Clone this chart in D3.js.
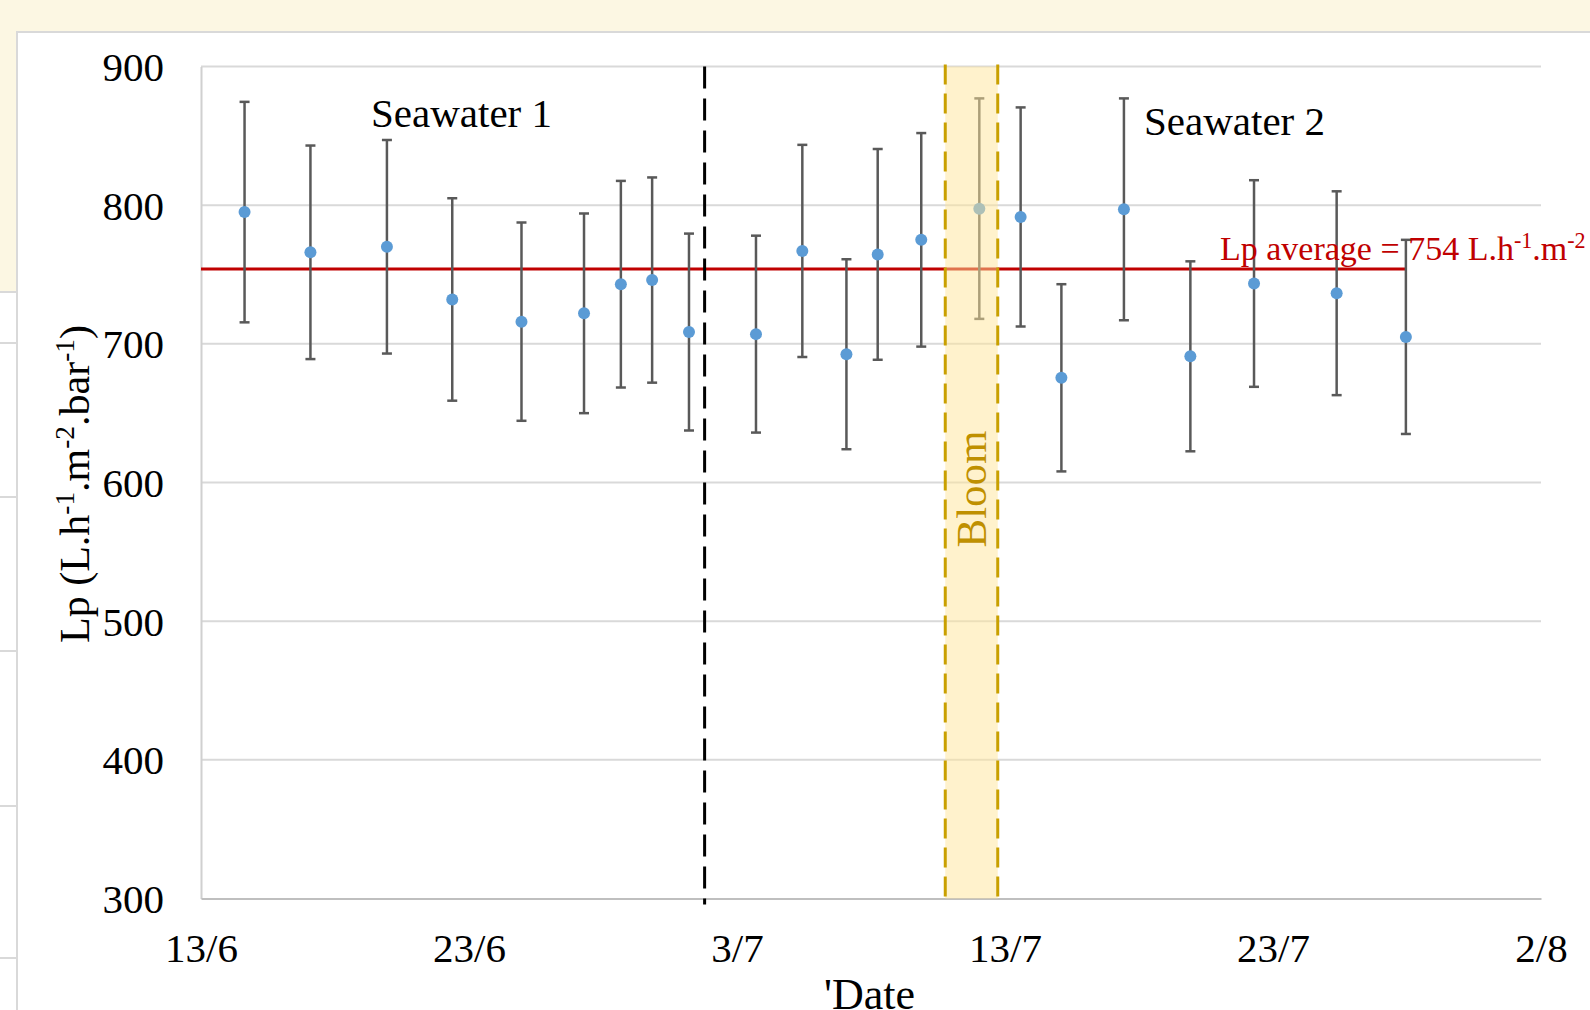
<!DOCTYPE html>
<html>
<head>
<meta charset="utf-8">
<script src="https://cdn.jsdelivr.net/npm/d3@7"></script>
<style>
  html, body { margin: 0; padding: 0; background: #fcf7e3; overflow: hidden; }
  svg { display: block; }
  text { font-family: "Liberation Serif", "Times New Roman", serif; }
</style>
</head>
<body>
<svg id="chart" width="1590" height="1010"></svg>
<script>
// ---------------- data ----------------
const dates = [
  "2021-06-14 15:00", "2021-06-17 02:00", "2021-06-19 22:30", "2021-06-22 09:00",
  "2021-06-24 23:00", "2021-06-27 07:00", "2021-06-28 16:00", "2021-06-29 20:00",
  "2021-07-01 05:00", "2021-07-03 17:00", "2021-07-05 10:30", "2021-07-07 02:00",
  "2021-07-08 06:00", "2021-07-09 21:00", "2021-07-12 01:00", "2021-07-13 14:00",
  "2021-07-15 02:30", "2021-07-17 10:30", "2021-07-19 22:00", "2021-07-22 07:00",
  "2021-07-25 09:00", "2021-07-27 23:00"
];
const lpValues = [795, 766, 770, 732, 716, 722, 743, 746, 708.5, 707, 767, 692.5,
                  764.5, 775, 797.5, 791.5, 675.5, 797, 691, 743.5, 736.5, 705];
const lpErrors = [79.5, 77, 77, 73, 71.5, 72, 74.5, 74, 71, 71, 76.5, 68.5,
                  76, 77, 79.5, 79, 67.5, 80, 68.5, 74.5, 73.5, 70];
const lpAverage = 754;
const seawaterChange = "2021-07-01 19:00";
const bloomPeriod = ["2021-07-10 18:30", "2021-07-12 17:30"];
const xDomain = ["2021-06-13 00:00", "2021-08-02 00:00"];
const xTickDates = ["2021-06-13 00:00", "2021-06-23 00:00", "2021-07-03 00:00",
                    "2021-07-13 00:00", "2021-07-23 00:00", "2021-08-02 00:00"];
const xTickLabels = ["13/6", "23/6", "3/7", "13/7", "23/7", "2/8"];
const yTicks = [300, 400, 500, 600, 700, 800, 900];
const yDomain = [300, 900];

// ---------------- setup ----------------
const parse = d3.timeParse("%Y-%m-%d %H:%M");
const points = dates.map((d, i) => ({ date: parse(d), v: lpValues[i], e: lpErrors[i] }));

const svg = d3.select("#chart");
const L = 201, R = 1541, T = 66.5, B = 898.5;

const x = d3.scaleTime().domain(xDomain.map(parse)).range([L, R]);
const y = d3.scaleLinear().domain(yDomain).range([B, T]);

// ---------------- background ----------------
svg.append("rect").attr("x", 0).attr("y", 0).attr("width", 1590).attr("height", 1010).attr("fill", "#fcf7e3");
svg.append("rect").attr("x", 0).attr("y", 292).attr("width", 20).attr("height", 720).attr("fill", "#ffffff");
[292, 343, 497, 651, 806, 958].forEach(yy => {
  svg.append("line").attr("x1", 0).attr("x2", 17).attr("y1", yy).attr("y2", yy)
    .attr("stroke", "#d9d9d9").attr("stroke-width", 2);
});
svg.append("rect").attr("x", 17).attr("y", 32).attr("width", 1600).attr("height", 1000)
  .attr("fill", "#ffffff").attr("stroke", "#d9d9d9").attr("stroke-width", 2);

// ---------------- grid & axes ----------------
const grid = svg.append("g");
grid.selectAll("line.grid").data(yTicks.filter(t => t !== yDomain[0])).join("line")
  .attr("x1", L).attr("x2", R)
  .attr("y1", d => y(d)).attr("y2", d => y(d))
  .attr("stroke", "#d9d9d9").attr("stroke-width", 2);

const yAxis = svg.append("g").attr("transform", `translate(${L},0)`)
  .call(d3.axisLeft(y).tickValues(yTicks).tickSize(0).tickPadding(37).tickFormat(d3.format("d")));
yAxis.attr("font-size", 41).attr("font-family", "Liberation Serif");
yAxis.select(".domain").attr("stroke", "#d0d0d0").attr("stroke-width", 2);
yAxis.selectAll("text").attr("font-size", 41).attr("fill", "#000").attr("dy", "0.34em");

const xAxis = svg.append("g").attr("transform", `translate(0,${B})`)
  .call(d3.axisBottom(x).tickValues(xTickDates.map(parse)).tickSize(0)
        .tickFormat((d, i) => xTickLabels[i]));
xAxis.attr("font-size", 41).attr("font-family", "Liberation Serif");
xAxis.select(".domain").attr("stroke", "#bfbfbf").attr("stroke-width", 2);
xAxis.selectAll("text").attr("font-size", 41).attr("fill", "#000").attr("dy", null).attr("y", 63);

// ---------------- average line ----------------
svg.append("line")
  .attr("x1", L).attr("x2", x(points[points.length - 1].date))
  .attr("y1", y(lpAverage)).attr("y2", y(lpAverage))
  .attr("stroke", "#c00000").attr("stroke-width", 3);

// ---------------- error bars & points ----------------
const eb = svg.append("g").attr("stroke", "#595959").attr("stroke-width", 2.5);
eb.selectAll("line.v").data(points).join("line")
  .attr("x1", d => x(d.date)).attr("x2", d => x(d.date))
  .attr("y1", d => y(d.v + d.e)).attr("y2", d => y(d.v - d.e));
eb.selectAll("line.top").data(points).join("line")
  .attr("x1", d => x(d.date) - 5).attr("x2", d => x(d.date) + 5)
  .attr("y1", d => y(d.v + d.e)).attr("y2", d => y(d.v + d.e));
eb.selectAll("line.bot").data(points).join("line")
  .attr("x1", d => x(d.date) - 5).attr("x2", d => x(d.date) + 5)
  .attr("y1", d => y(d.v - d.e)).attr("y2", d => y(d.v - d.e));

svg.append("g").selectAll("circle").data(points).join("circle")
  .attr("cx", d => x(d.date)).attr("cy", d => y(d.v)).attr("r", 6)
  .attr("fill", "#5b9bd5");

// ---------------- seawater change line ----------------
svg.append("line")
  .attr("x1", x(parse(seawaterChange))).attr("x2", x(parse(seawaterChange)))
  .attr("y1", T).attr("y2", B + 6)
  .attr("stroke", "#000").attr("stroke-width", 3).attr("stroke-dasharray", "22,10");

// ---------------- bloom band ----------------
const bx0 = x(parse(bloomPeriod[0])), bx1 = x(parse(bloomPeriod[1]));
svg.append("rect").attr("x", bx0).attr("y", T).attr("width", bx1 - bx0).attr("height", B - T)
  .attr("fill", "#ffe699").attr("fill-opacity", 0.5);
[bx0, bx1].forEach(bx => {
  svg.append("line").attr("x1", bx).attr("x2", bx).attr("y1", T - 2).attr("y2", B)
    .attr("stroke", "#c9a000").attr("stroke-width", 3).attr("stroke-dasharray", "20,9");
});
svg.append("text")
  .attr("transform", `translate(${(bx0 + bx1) / 2 + 14},489) rotate(-90)`)
  .attr("text-anchor", "middle").attr("font-size", 43).attr("fill", "#bf9000")
  .text("Bloom");

// ---------------- annotations ----------------
svg.append("text").attr("x", 371).attr("y", 127).attr("font-size", 41).attr("fill", "#000")
  .text("Seawater 1");
svg.append("text").attr("x", 1144).attr("y", 135).attr("font-size", 41).attr("fill", "#000")
  .text("Seawater 2");

// text with superscripts: sup parts raised, following parts lowered back
function supText(sel, parts, size) {
  sel.attr("font-size", size);
  const shift = size * 0.36;
  let raised = false;
  parts.forEach(p => {
    const ts = sel.append("tspan");
    if (p.sup) {
      ts.attr("font-size", size * 0.65).attr("dy", raised ? 0 : -shift);
      raised = true;
    } else {
      ts.attr("font-size", size);
      if (raised) { ts.attr("dy", shift); raised = false; }
    }
    ts.text(p.t);
  });
}

const avgLabel = svg.append("text").attr("x", 1220).attr("y", 260).attr("fill", "#c00000");
supText(avgLabel, [{ t: "Lp average = " + lpAverage + " L.h" }, { t: "-1", sup: true },
                   { t: ".m" }, { t: "-2", sup: true }], 34);

const yTitle = svg.append("text")
  .attr("transform", "translate(89,484) rotate(-90)")
  .attr("text-anchor", "middle").attr("fill", "#000");
supText(yTitle, [{ t: "Lp (L.h" }, { t: "-1", sup: true }, { t: ".m" }, { t: "-2", sup: true },
                 { t: ".bar" }, { t: "-1", sup: true }, { t: ")" }], 42);

svg.append("text").attr("x", 824).attr("y", 1009).attr("font-size", 44).attr("fill", "#000")
  .text("'Date");
</script>
</body>
</html>
